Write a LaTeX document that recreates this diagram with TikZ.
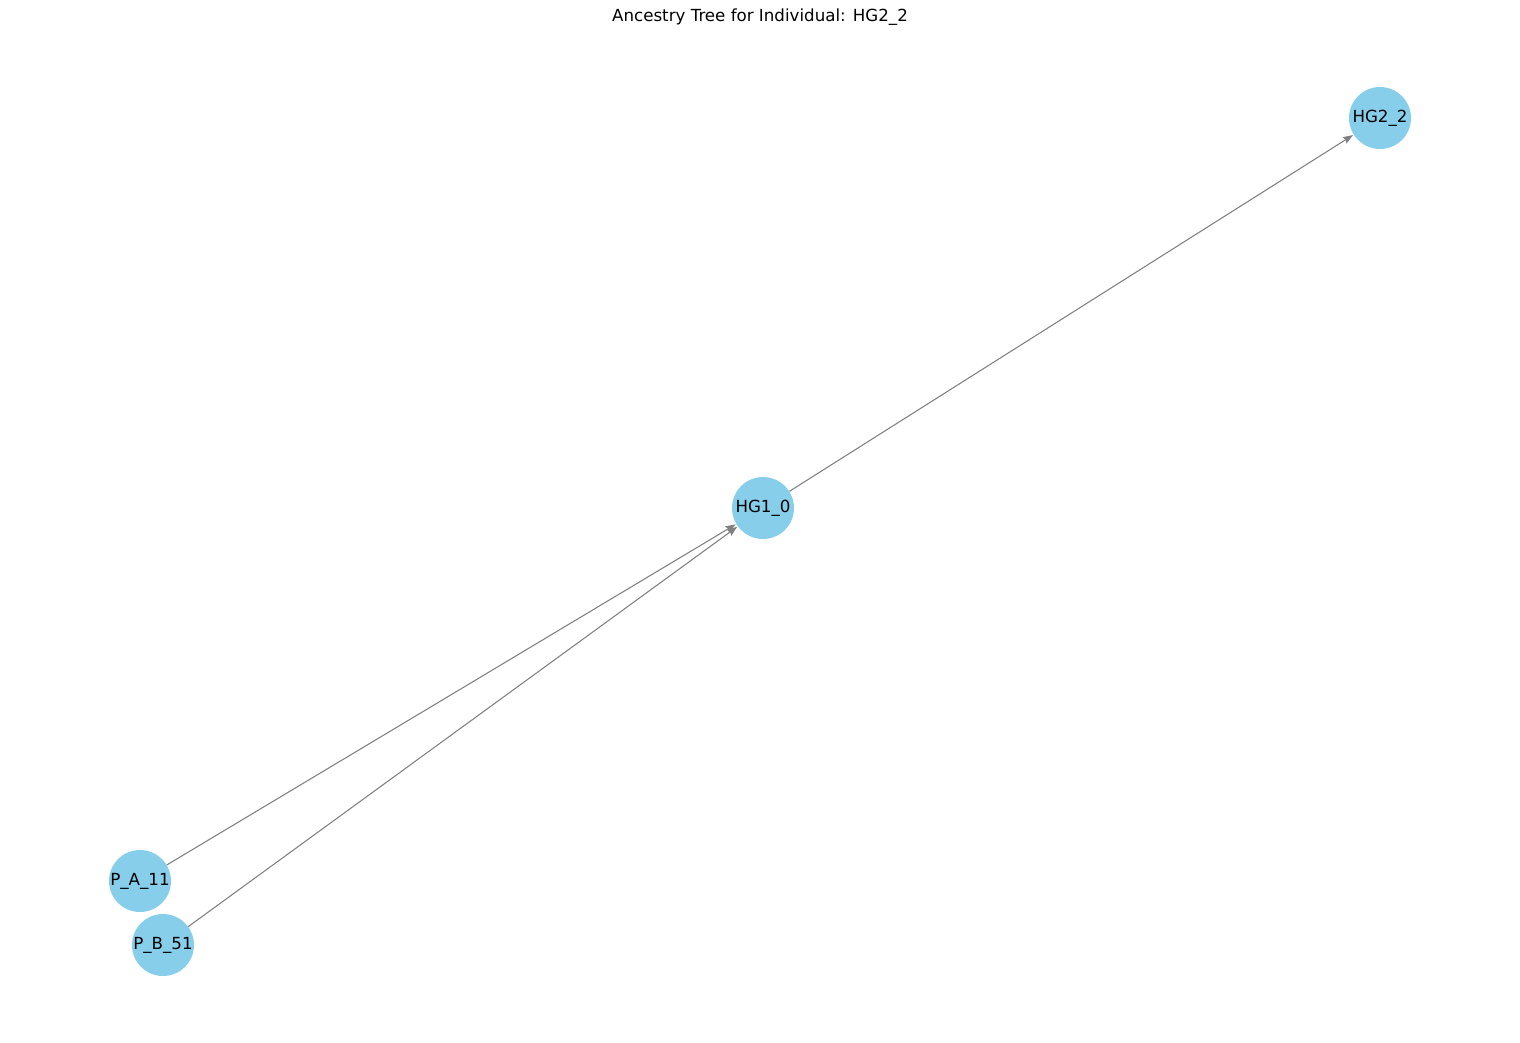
\documentclass[tikz,border=0pt]{standalone}
\usepackage{fontspec}
\setmainfont{DejaVu Sans}
\usetikzlibrary{arrows.meta}
\definecolor{nodeblue}{HTML}{87CEEB}
\begin{document}
\begin{tikzpicture}[x=0.75pt,y=-0.75pt,
  person/.style={circle,fill=nodeblue,minimum size=46.5pt,inner sep=0pt,text height=0.73em,text depth=0pt,font=\fontsize{12.5}{15}\selectfont},
  edge/.style={draw=gray,line width=0.8pt,-{Stealth[length=7.5pt,width=5.5pt,inset=1pt]},shorten >=0.5pt}]
\useasboundingbox (0,0) rectangle (1520,1042);
\node[font=\fontsize{12.5}{15}\selectfont] (title) at (760,17) {Ancestry Tree for Individual: HG2\_2};
\node[person] (hg22) at (1380,118) {HG2\_2};
\node[person] (hg10) at (763,508) {HG1\_0};
\node[person] (pa11) at (140,881) {P\_A\_11};
\node[person] (pb51) at (163,945) {P\_B\_51};
\draw[edge] (hg10) -- (hg22);
\draw[edge] (pa11) -- (hg10);
\draw[edge] (pb51) -- (hg10);
\end{tikzpicture}
\end{document}
